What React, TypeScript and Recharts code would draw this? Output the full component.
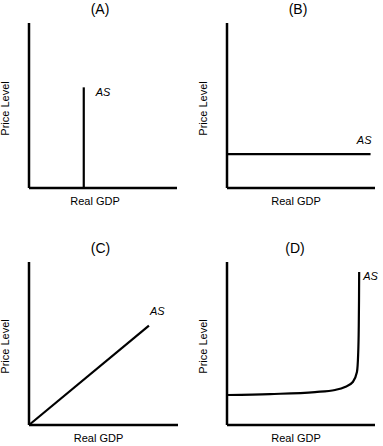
import React from "react";
import { Line, LineChart, XAxis, YAxis } from "recharts";

const panelTitles = ["(A)", "(B)", "(C)", "(D)"];
const xAxisLabel = "Real GDP";
const yAxisLabel = "Price Level";
const curveName = "AS";

// AS curves, in axis units (0-10 on both axes)
const asVertical = [
  { gdp: 3.7, price: 0 },
  { gdp: 3.7, price: 6.1 },
];
const asHorizontal = [
  { gdp: 0, price: 2.05 },
  { gdp: 9.7, price: 2.05 },
];
const asUpward = [
  { gdp: 0, price: 0 },
  { gdp: 8.05, price: 6.1 },
];
const asKinked = [
  { gdp: 0.07, price: 1.84 },
  { gdp: 2.9, price: 1.9 },
  { gdp: 5.95, price: 2.02 },
  { gdp: 7.3, price: 2.15 },
  { gdp: 7.97, price: 2.33 },
  { gdp: 8.5, price: 2.64 },
  { gdp: 8.78, price: 3.25 },
  { gdp: 8.86, price: 4.3 },
  { gdp: 8.9, price: 5.83 },
  { gdp: 8.92, price: 7.67 },
  { gdp: 8.93, price: 9.39 },
];

const FONT = "'Liberation Sans', Arial, sans-serif";

type Panel = {
  title: string;
  data: { gdp: number; price: number }[];
  left: number;
  top: number;
  width: number;
  // plot box edges, relative to the panel
  plot: { top: number; right: number; bottom: number; left: number };
  curveType: "linear" | "monotone";
  tag: { dx: number; dy: number; anchor: "start" | "end" };
  titleDx: number;
  xLabelDx: number;
};

const panels: Panel[] = [
  {
    title: panelTitles[0], data: asVertical, left: 0, top: 0, width: 192,
    plot: { top: 23, right: 15, bottom: 35, left: 29 }, curveType: "linear",
    tag: { dx: 12, dy: 9, anchor: "start" }, titleDx: -3, xLabelDx: -8,
  },
  {
    title: panelTitles[1], data: asHorizontal, left: 192, top: 0, width: 191,
    plot: { top: 23, right: 8, bottom: 35, left: 35 }, curveType: "linear",
    tag: { dx: 1, dy: -10, anchor: "end" }, titleDx: -3, xLabelDx: -5,
  },
  {
    title: panelTitles[2], data: asUpward, left: 0, top: 223, width: 192,
    plot: { top: 39, right: 14, bottom: 21, left: 29 }, curveType: "linear",
    tag: { dx: 1, dy: -11, anchor: "start" }, titleDx: -3, xLabelDx: -5,
  },
  {
    title: panelTitles[3], data: asKinked, left: 192, top: 223, width: 191,
    plot: { top: 39, right: 8, bottom: 21, left: 35 }, curveType: "monotone",
    tag: { dx: 4, dy: 8, anchor: "start" }, titleDx: -6, xLabelDx: -5,
  },
];

const HEIGHT = 223;

function AsPanel({ p }: { p: Panel }) {
  const plotW = p.width - p.plot.left - p.plot.right;
  const plotH = HEIGHT - p.plot.top - p.plot.bottom;
  const last = p.data.length - 1;
  // axes take 1px each, so take it off the margins
  const margin = { top: p.plot.top, right: p.plot.right, bottom: p.plot.bottom - 1, left: p.plot.left - 1 };
  const yLabelX = p.plot.left - 24;
  const yLabelY = p.plot.top + plotH / 2 + 3;
  return (
    <div style={{ position: "absolute", left: p.left, top: p.top, width: p.width, height: HEIGHT }}>
      <div
        style={{
          position: "absolute",
          left: p.plot.left + plotW / 2 + p.titleDx - 30,
          width: 60,
          top: p.plot.top - 22,
          textAlign: "center",
          fontSize: 14,
          lineHeight: "16px",
          fontFamily: FONT,
        }}
      >
        {p.title}
      </div>
      <LineChart width={p.width} height={HEIGHT} data={p.data} margin={margin}>
        <XAxis
          dataKey="gdp"
          type="number"
          domain={[0, 10]}
          height={1}
          tick={false}
          tickLine={false}
          axisLine={{ stroke: "#000", strokeWidth: 2.5 }}
          label={{
            value: xAxisLabel,
            position: "bottom",
            offset: 8,
            dx: p.xLabelDx,
            fill: "#000",
            fontSize: 11,
            fontFamily: FONT,
          }}
        />
        <YAxis
          dataKey="price"
          type="number"
          domain={[0, 10]}
          width={1}
          tick={false}
          tickLine={false}
          axisLine={{ stroke: "#000", strokeWidth: 2.5 }}
          label={{
            content: () => (
              <text
                x={yLabelX}
                y={yLabelY}
                transform={`rotate(-90 ${yLabelX} ${yLabelY})`}
                textAnchor="middle"
                dominantBaseline="central"
                fontSize={11}
                fontFamily={FONT}
                fill="#000"
              >
                {yAxisLabel}
              </text>
            ),
          }}
        />
        <Line
          dataKey="price"
          type={p.curveType}
          stroke="#000"
          strokeWidth={2.2}
          dot={false}
          activeDot={false}
          isAnimationActive={false}
          label={(lp: any) =>
            lp.index === last ? (
              <text
                key="as"
                x={lp.x + p.tag.dx}
                y={lp.y + p.tag.dy}
                textAnchor={p.tag.anchor}
                fontSize={11}
                fontStyle="italic"
                fontFamily={FONT}
                fill="#000"
              >
                {curveName}
              </text>
            ) : (
              <g key={`n${lp.index}`} />
            )
          }
        />
      </LineChart>
    </div>
  );
}

export default function App() {
  return (
    <div
      style={{
        position: "absolute",
        left: 0,
        top: 0,
        width: 383,
        height: 446,
        background: "#fff",
        overflow: "hidden",
      }}
    >
      {panels.map((p) => (
        <AsPanel key={p.title} p={p} />
      ))}
    </div>
  );
}
